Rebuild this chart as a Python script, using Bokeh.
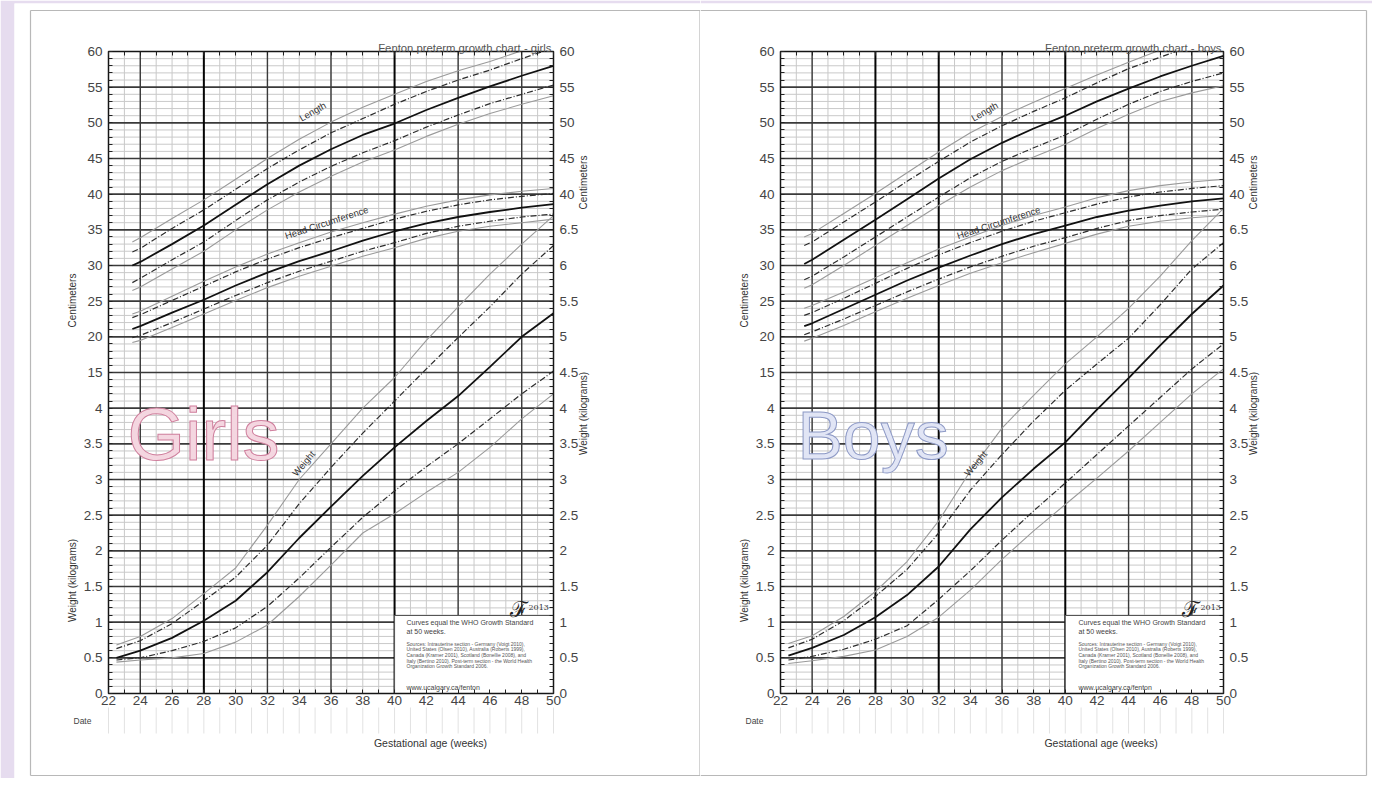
from bokeh.plotting import figure
from bokeh.models import FixedTicker, LinearAxis, Label, Range1d, Text
from bokeh.layouts import row
from bokeh.embed import file_html
from bokeh.resources import INLINE
from bokeh.core.properties import value

# ---------------- data ----------------
WEEKS_LH = [23.5, 24, 26, 28, 30, 32, 34, 36, 38, 40, 42, 44, 46, 48, 50]
WEEKS_W = [22.5, 24, 26, 28, 30, 32, 34, 36, 38, 40, 42, 44, 46, 48, 50]
PERCENTILES = ["3", "10", "50", "90", "97"]

GIRLS_LEN_P3 = [26.5, 27.0, 29.5, 32.0, 35.0, 37.8, 40.3, 42.5, 44.5, 46.2, 48.1, 49.8, 51.3, 52.6, 53.8]
GIRLS_LEN_P10 = [27.6, 28.2, 30.8, 33.3, 36.3, 39.2, 41.7, 43.9, 45.8, 47.5, 49.4, 51.1, 52.7, 54.0, 55.3]
GIRLS_LEN_P50 = [30.0, 30.5, 33.0, 35.6, 38.5, 41.4, 44.0, 46.3, 48.3, 49.9, 51.8, 53.5, 55.1, 56.6, 58.0]
GIRLS_LEN_P90 = [31.9, 32.4, 35.2, 37.8, 40.7, 43.6, 46.2, 48.6, 50.6, 52.6, 54.4, 56.0, 57.4, 59.0, 60.5]
GIRLS_LEN_P97 = [33.3, 33.9, 36.6, 39.2, 42.1, 45.0, 47.7, 50.1, 52.2, 54.0, 55.8, 57.3, 58.6, 60.1, 61.5]

GIRLS_HC_P3 = [19.2, 19.5, 21.3, 23.2, 25.1, 26.9, 28.5, 29.9, 31.3, 32.5, 33.8, 34.8, 35.5, 36.0, 36.5]
GIRLS_HC_P10 = [19.9, 20.2, 22.0, 23.9, 25.8, 27.6, 29.2, 30.6, 32.0, 33.2, 34.5, 35.5, 36.2, 36.8, 37.2]
GIRLS_HC_P50 = [21.1, 21.5, 23.4, 25.2, 27.2, 29.0, 30.6, 32.0, 33.5, 34.8, 35.9, 36.8, 37.5, 38.1, 38.6]
GIRLS_HC_P90 = [22.7, 23.1, 25.1, 27.1, 29.1, 30.9, 32.5, 33.9, 35.2, 36.5, 37.6, 38.5, 39.2, 39.7, 40.1]
GIRLS_HC_P97 = [23.2, 23.6, 25.7, 27.8, 29.8, 31.6, 33.2, 34.7, 36.0, 37.2, 38.3, 39.2, 39.9, 40.4, 40.8]

GIRLS_WT_P3 = [0.44, 0.47, 0.50, 0.56, 0.72, 0.96, 1.36, 1.80, 2.25, 2.52, 2.82, 3.10, 3.45, 3.85, 4.20]
GIRLS_WT_P10 = [0.47, 0.50, 0.60, 0.73, 0.92, 1.22, 1.62, 2.05, 2.47, 2.84, 3.18, 3.50, 3.85, 4.20, 4.52]
GIRLS_WT_P50 = [0.50, 0.60, 0.78, 1.02, 1.30, 1.70, 2.18, 2.62, 3.05, 3.45, 3.82, 4.17, 4.58, 5.00, 5.33]
GIRLS_WT_P90 = [0.63, 0.74, 0.98, 1.30, 1.63, 2.08, 2.66, 3.17, 3.65, 4.10, 4.55, 4.99, 5.42, 5.88, 6.28]
GIRLS_WT_P97 = [0.68, 0.80, 1.05, 1.40, 1.76, 2.36, 3.00, 3.50, 4.00, 4.43, 4.95, 5.42, 5.88, 6.30, 6.70]

BOYS_LEN_P3 = [26.8, 27.3, 30.0, 32.8, 35.6, 38.4, 41.0, 43.3, 45.2, 47.0, 49.2, 51.2, 53.0, 54.2, 55.2]
BOYS_LEN_P10 = [28.0, 28.5, 31.2, 34.0, 36.8, 39.6, 42.3, 44.6, 46.5, 48.3, 50.5, 52.6, 54.4, 55.8, 57.0]
BOYS_LEN_P50 = [30.2, 30.8, 33.6, 36.4, 39.3, 42.2, 44.9, 47.2, 49.2, 51.0, 53.0, 54.8, 56.5, 58.0, 59.4]
BOYS_LEN_P90 = [32.8, 33.3, 36.1, 38.9, 41.8, 44.6, 47.3, 49.6, 51.6, 53.5, 55.6, 57.6, 59.2, 60.8, 62.2]
BOYS_LEN_P97 = [34.0, 34.5, 37.3, 40.1, 43.0, 45.9, 48.6, 50.9, 52.9, 54.8, 56.7, 58.5, 60.2, 61.8, 63.3]

BOYS_HC_P3 = [19.4, 19.8, 21.6, 23.5, 25.4, 27.2, 28.9, 30.4, 31.8, 33.1, 34.4, 35.5, 36.2, 36.7, 37.0]
BOYS_HC_P10 = [20.3, 20.7, 22.5, 24.4, 26.3, 28.1, 29.8, 31.3, 32.7, 33.9, 35.2, 36.3, 37.0, 37.5, 37.9]
BOYS_HC_P50 = [21.5, 21.9, 23.9, 25.9, 27.9, 29.7, 31.4, 33.0, 34.4, 35.6, 36.8, 37.7, 38.4, 39.0, 39.4]
BOYS_HC_P90 = [23.0, 23.4, 25.4, 27.5, 29.6, 31.5, 33.2, 34.8, 36.2, 37.4, 38.6, 39.6, 40.3, 40.8, 41.2]
BOYS_HC_P97 = [24.0, 24.4, 26.3, 28.3, 30.4, 32.3, 34.0, 35.6, 37.0, 38.2, 39.5, 40.5, 41.2, 41.7, 42.1]

BOYS_WT_P3 = [0.42, 0.46, 0.52, 0.61, 0.80, 1.07, 1.45, 1.88, 2.28, 2.65, 3.02, 3.40, 3.80, 4.20, 4.55]
BOYS_WT_P10 = [0.47, 0.52, 0.62, 0.76, 0.95, 1.32, 1.72, 2.15, 2.56, 2.95, 3.35, 3.75, 4.15, 4.55, 4.90]
BOYS_WT_P50 = [0.53, 0.64, 0.82, 1.07, 1.38, 1.78, 2.30, 2.75, 3.15, 3.52, 3.98, 4.42, 4.88, 5.32, 5.72]
BOYS_WT_P90 = [0.64, 0.76, 1.02, 1.36, 1.74, 2.25, 2.85, 3.35, 3.82, 4.25, 4.62, 4.98, 5.45, 5.95, 6.32]
BOYS_WT_P97 = [0.70, 0.81, 1.08, 1.43, 1.85, 2.42, 3.12, 3.72, 4.18, 4.62, 5.00, 5.40, 5.85, 6.35, 6.80]

X_TICKS = list(range(22, 51, 2))
CM_LEFT = list(range(15, 61, 5))
CM_RIGHT = list(range(40, 61, 5))

FONT = "Liberation Sans"
LAVENDER = "#e6dcef"
HAS_OUTLINE = "text_outline_color" in Text.properties()


def kg_label(v):
    kg = (v + 30) / 10.0
    return str(int(round(kg))) if abs(kg - round(kg)) < 1e-9 else ("%.1f" % kg)


def to_grid_y(kg):
    return 10.0 * kg - 30.0


def build(sex, len_sets, hc_sets, wt_sets, fig_x, fig_w, mb_left, cx0, cx1,
          big_text, big_size, big_x, big_fill, big_line, bold_weeks, border_sides, border_px):
    fig_h = 778
    mb_top = 3
    # frame in page pixels
    fx0, fx1 = fig_x + mb_left, fig_x + fig_w
    fy0, fy1 = mb_top, fig_h
    cy0, cy1 = 51, 693            # chart top (60) and bottom (-30)
    pxw = (cx1 - cx0) / 28.0
    pxy = (cy1 - cy0) / 90.0

    def X(px):
        return 22 + (px - cx0) / pxw

    def Y(py):
        return 60 - (py - cy0) / pxy

    p = figure(width=fig_w, height=fig_h, x_range=Range1d(X(fx0), X(fx1)), y_range=Range1d(Y(fy1), Y(fy0)),
               x_axis_type=None, y_axis_type=None, output_backend="svg", toolbar_location=None,
               min_border_left=mb_left, min_border_right=0, min_border_top=mb_top, min_border_bottom=0,
               background_fill_color="white", border_fill_color=LAVENDER, outline_line_color=None)
    p.title.visible = False

    # outer page border (grey)
    bl, br, bt, bb = border_px
    segs = {"left": (bl, bt, bl, bb), "right": (br, bt, br, bb), "top": (bl, bt, br, bt), "bottom": (bl, bb, br, bb)}
    sx0, sy0, sx1, sy1 = [], [], [], []
    for side in border_sides:
        a, b, c, d = segs[side]
        sx0.append(X(a)); sy0.append(Y(b)); sx1.append(X(c)); sy1.append(Y(d))
    p.segment(x0=sx0, y0=sy0, x1=sx1, y1=sy1, line_color="#b8b8b8", line_width=1.2)

    # date boxes under the axis
    date_weeks = list(range(22, 51))
    p.segment(x0=date_weeks, y0=[Y(707)] * len(date_weeks), x1=date_weeks, y1=[Y(733)] * len(date_weeks),
              line_color="#e2e2e2", line_width=1)

    # grid: minor lines
    minor_w = list(range(23, 50))
    p.segment(x0=minor_w, y0=[-30] * len(minor_w), x1=minor_w, y1=[60] * len(minor_w),
              line_color="#c9c9c9", line_width=1)
    minor_y = [v for v in range(-29, 60) if v % 5 != 0]
    p.segment(x0=[22] * len(minor_y), y0=minor_y, x1=[50] * len(minor_y), y1=minor_y,
              line_color="#c9c9c9", line_width=1)
    # grid: major lines
    major_y = list(range(-25, 60, 5))
    p.segment(x0=[22] * len(major_y), y0=major_y, x1=[50] * len(major_y), y1=major_y,
              line_color="#3a3a3a", line_width=1.6)
    major_w = [w for w in range(24, 50, 4) if w not in bold_weeks]
    p.segment(x0=major_w, y0=[-30] * len(major_w), x1=major_w, y1=[60] * len(major_w),
              line_color="#3a3a3a", line_width=1.4)
    p.segment(x0=bold_weeks, y0=[-30] * len(bold_weeks), x1=bold_weeks, y1=[60] * len(bold_weeks),
              line_color="#050505", line_width=2.0)

    # big watermark word
    tkw = dict(text_font=value(FONT), text_font_size=big_size, text_color=big_fill,
               text_baseline="alphabetic", text_align="left")
    if HAS_OUTLINE:
        tkw["text_outline_color"] = big_line
    p.text(x=[X(big_x)], y=[Y(434)], text=[big_text], **tkw)

    # curves
    styles = [dict(line_color="#9a9a9a", line_width=1.1),
              dict(line_color="#2c2c2c", line_width=1.2, line_dash="6 2 1 2"),
              dict(line_color="#111111", line_width=1.8),
              dict(line_color="#2c2c2c", line_width=1.2, line_dash="6 2 1 2"),
              dict(line_color="#9a9a9a", line_width=1.1)]
    for vals, st in zip(len_sets, styles):
        p.line(WEEKS_LH, vals, **st)
    for vals, st in zip(hc_sets, styles):
        p.line(WEEKS_LH, vals, **st)
    for vals, st in zip(wt_sets, styles):
        p.line(WEEKS_W, [to_grid_y(v) for v in vals], **st)

    # keep the curves inside the chart (white band above the top edge)
    p.quad(left=[21.8], right=[50.3], bottom=[60], top=[Y(12)], fill_color="white", line_color=None)

    # info box
    p.quad(left=[40], right=[50], bottom=[-30], top=[Y(615)], fill_color="white",
           line_color="#555555", line_width=1)

    # chart frame
    p.quad(left=[22], right=[50], bottom=[-30], top=[60], fill_color=None,
           line_color="#151515", line_width=1.5)

    # axes fixed on the chart edges
    left_map = {v: str(v) for v in CM_LEFT}
    left_map.update({v: kg_label(v) for v in range(-30, 11, 5)})
    right_map = {v: str(v) for v in CM_RIGHT}
    right_map.update({v: kg_label(v) for v in range(-30, 36, 5)})

    common = dict(major_tick_in=0, major_tick_out=0, minor_tick_in=4, minor_tick_out=0,
                  minor_tick_line_color="#222", axis_line_color=None,
                  major_label_text_font=FONT, major_label_text_font_size="13.5px",
                  major_label_text_color="#454545")

    def yaxis(mapping, loc):
        return LinearAxis(fixed_location=loc,
                          ticker=FixedTicker(ticks=list(range(-30, 61, 5)), minor_ticks=list(range(-30, 61))),
                          major_label_overrides=mapping, major_label_standoff=6, **common)

    p.add_layout(yaxis(left_map, 22), "left")
    p.add_layout(yaxis(right_map, 50), "right")
    p.add_layout(LinearAxis(fixed_location=-30,
                            ticker=FixedTicker(ticks=X_TICKS, minor_ticks=list(range(22, 51))),
                            major_label_standoff=2, **common), "below")
    p.add_layout(LinearAxis(fixed_location=60,
                            ticker=FixedTicker(ticks=[], minor_ticks=list(range(22, 51))),
                            **common), "above")

    def lab(text, x, y, size, color="#333333", angle=0, align="left", baseline="alphabetic",
            font=FONT, lh=1.2):
        p.add_layout(Label(x=x, y=y, text=text, text_font=font, text_font_size=size,
                           text_color=color, angle=angle, angle_units="deg", text_align=align,
                           text_baseline=baseline, text_line_height=lh))

    tx = cx0 + 298
    lab("Curves equal the WHO Growth Standard", X(tx), Y(622), "7px", "#444")
    lab("at 50 weeks.", X(tx), Y(631), "7px", "#444")
    lab("Sources: Intrauterine section - Germany (Voigt 2010),\n"
        "United States (Olsen 2010), Australia (Roberts 1999),\n"
        "Canada (Kramer 2001), Scotland (Bonellie 2008), and\n"
        "Italy (Bertino 2010). Post-term section - the World Health\n"
        "Organization Growth Standard 2006.", X(tx), Y(640), "5px", "#555", baseline="top", lh=0.95)
    lab("www.ucalgary.ca/fenton", X(tx), Y(687), "7px", "#444")
    lab("\u2131", X(cx0 + 401), Y(609), "22px", "#222", font="DejaVu Serif")
    lab("2013", X(cx0 + 420), Y(607), "8px", "#333", font="DejaVu Serif")

    # titles and axis titles
    lab("Fenton preterm growth chart - " + sex, X(cx1 - 2), Y(47), "11.3px", "#555", align="right")
    lab("Centimeters", X(cx0 - 36), Y(300), "10px", "#333", angle=90, align="center", baseline="middle")
    lab("Weight (kilograms)", X(cx0 - 36), Y(580), "10px", "#333", angle=90, align="center",
        baseline="middle")
    lab("Centimeters", X(cx1 + 30), Y(182), "10px", "#333", angle=90, align="center", baseline="middle")
    lab("Weight (kilograms)", X(cx1 + 30), Y(413), "10px", "#333", angle=90, align="center",
        baseline="middle")
    lab("Date", X(cx0 - 35), Y(720), "8.5px", "#444", align="left", baseline="middle")
    lab("Gestational age (weeks)", 42.26, Y(742), "10.5px", "#333", align="center", baseline="middle")

    # curve names
    lab("Length", X(cx0 + 204), Y(111), "9.5px", "#333", angle=30, align="center", baseline="middle")
    lab("Head Circumference", X(cx0 + 218), Y(222), "9.5px", "#333", angle=18, align="center",
        baseline="middle")
    lab("Weight", X(cx0 + 195), Y(463), "9.5px", "#333", angle=50, align="center", baseline="middle")
    return p


girls = build("girls",
              [GIRLS_LEN_P3, GIRLS_LEN_P10, GIRLS_LEN_P50, GIRLS_LEN_P90, GIRLS_LEN_P97],
              [GIRLS_HC_P3, GIRLS_HC_P10, GIRLS_HC_P50, GIRLS_HC_P90, GIRLS_HC_P97],
              [GIRLS_WT_P3, GIRLS_WT_P10, GIRLS_WT_P50, GIRLS_WT_P90, GIRLS_WT_P97],
              fig_x=0, fig_w=700, mb_left=14, cx0=108, cx1=553,
              big_text="Girls", big_size="74px", big_x=127, big_fill="#f4d6e0", big_line="#cf7f9d",
              bold_weeks=[28, 40], border_sides=["left", "right", "top", "bottom"],
              border_px=(30, 699.5, 10, 775))
boys = build("boys",
             [BOYS_LEN_P3, BOYS_LEN_P10, BOYS_LEN_P50, BOYS_LEN_P90, BOYS_LEN_P97],
             [BOYS_HC_P3, BOYS_HC_P10, BOYS_HC_P50, BOYS_HC_P90, BOYS_HC_P97],
             [BOYS_WT_P3, BOYS_WT_P10, BOYS_WT_P50, BOYS_WT_P90, BOYS_WT_P97],
             fig_x=700, fig_w=672, mb_left=0, cx0=780, cx1=1223,
             big_text="Boys", big_size="68px", big_x=797, big_fill="#e1e5f5", big_line="#8e9ac6",
             bold_weeks=[28, 32, 40], border_sides=["right", "top", "bottom"],
             border_px=(700, 1366, 10, 775))

layout = row(girls, boys)
open("out.html", "w").write(file_html(layout, INLINE))
